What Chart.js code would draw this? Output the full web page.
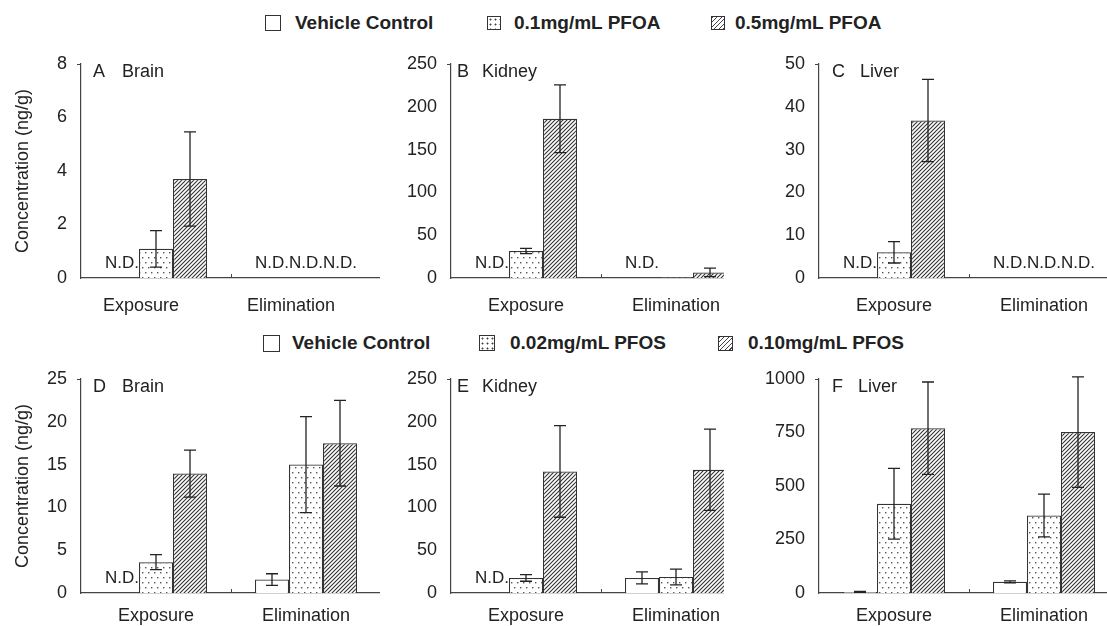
<!DOCTYPE html>
<html>
<head>
<meta charset="utf-8">
<script src="https://cdn.jsdelivr.net/npm/chart.js@4.4.1/dist/chart.umd.min.js"></script>
<style>
    html, body { margin: 0; padding: 0; background: #fff; }
    body { width: 1107px; height: 626px; position: relative; overflow: hidden; font-family: "Liberation Sans", Arial, sans-serif; color: #222; }
    .panel { position: absolute; overflow: hidden; }
    .legend-box { position: absolute; box-sizing: border-box; border: 1.3px solid #333; background-color: #fff; }
    .legend-text { position: absolute; font-weight: bold; font-size: 19px; line-height: 22px; white-space: nowrap; }
    .dots { background-image: radial-gradient(circle, #444 0.8px, transparent 1.2px); background-size: 5px 5px; }
    .hatch { background-image: repeating-linear-gradient(135deg, #444 0 1px, #fff 1px 3.2px); }
</style>
</head>
<body>
<script>
// categories / series
const categories = ['Exposure', 'Elimination'];
const pfoaSeries = ['Vehicle Control', '0.1mg/mL PFOA', '0.5mg/mL PFOA'];
const pfosSeries = ['Vehicle Control', '0.02mg/mL PFOS', '0.10mg/mL PFOS'];

// means per series [vehicle, low, high], each [Exposure, Elimination]; null = N.D.
const brainPfoaMean = [[null, null], [1.09, null], [3.70, null]];
const brainPfoaErr = [[0, 0], [0.68, 0], [1.76, 0]];
const kidneyPfoaMean = [[null, null], [31.5, 0.8], [186, 6.5]];
const kidneyPfoaErr = [[0, 0], [3, 0], [39.5, 5]];
const liverPfoaMean = [[null, null], [6.0, null], [36.8, null]];
const liverPfoaErr = [[0, 0], [2.5, 0], [9.6, 0]];

const brainPfosMean = [[null, 1.57], [3.6, 15.0], [13.95, 17.5]];
const brainPfosErr = [[0, 0.68], [0.88, 5.6], [2.75, 5.0]];
const kidneyPfosMean = [[null, 17.6], [17.6, 18.8], [142, 144]];
const kidneyPfosErr = [[0, 7], [3.9, 9.2], [53.5, 47.5]];
const liverPfosMean = [[5, 52], [417, 362], [770, 752]];
const liverPfosErr = [[2, 5], [165, 100], [216, 258]];

// y axis ticks per panel A..F
const yMax = [8, 250, 50, 25, 250, 1000];
const yStep = [2, 50, 10, 5, 50, 250];
const panelLetters = ['A', 'B', 'C', 'D', 'E', 'F'];
const panelTissues = ['Brain', 'Kidney', 'Liver', 'Brain', 'Kidney', 'Liver'];

const FONT = '"Liberation Sans", Arial, sans-serif';
Chart.defaults.font.family = FONT;
Chart.defaults.color = '#222';

function dotPattern() {
    const c = document.createElement('canvas');
    c.width = 6; c.height = 10;
    const g = c.getContext('2d');
    g.fillStyle = '#fff'; g.fillRect(0, 0, 6, 10);
    g.fillStyle = '#555';
    g.fillRect(1, 2, 1.4, 1.4);
    g.fillRect(4, 7, 1.4, 1.4);
    return g.createPattern(c, 'repeat');
}

function hatchPattern() {
    const c = document.createElement('canvas');
    c.width = 4; c.height = 4;
    const g = c.getContext('2d');
    g.fillStyle = '#fff'; g.fillRect(0, 0, 4, 4);
    g.strokeStyle = '#333'; g.lineWidth = 1.1;
    g.beginPath();
    g.moveTo(-1, 5); g.lineTo(5, -1);
    g.moveTo(-1, 1); g.lineTo(1, -1);
    g.moveTo(3, 5); g.lineTo(5, 3);
    g.stroke();
    return g.createPattern(c, 'repeat');
}

const fills = ['#ffffff', dotPattern(), hatchPattern()];

// error bars, N.D. labels, small axis ticks, panel letter
const panelExtras = {
    id: 'panelExtras',
    afterDatasetsDraw(chart, args, opts) {
        const { ctx, chartArea: a, scales: { x, y } } = chart;
        const zero = y.getPixelForValue(0);
        ctx.save();
        ctx.strokeStyle = '#222';
        ctx.lineWidth = 1.3;
        chart.data.datasets.forEach((ds, s) => {
            const meta = chart.getDatasetMeta(s);
            ds.data.forEach((v, i) => {
                const bar = meta.data[i];
                if (v === null) {
                    ctx.fillStyle = '#222';
                    ctx.font = '17px ' + FONT;
                    ctx.textAlign = 'center';
                    ctx.textBaseline = 'alphabetic';
                    ctx.fillText('N.D.', bar.x, zero - 10);
                    return;
                }
                const e = opts.err[s][i];
                if (!e) return;
                const top = y.getPixelForValue(v + e);
                const bot = y.getPixelForValue(Math.max(v - e, 0));
                ctx.beginPath();
                ctx.moveTo(bar.x, top); ctx.lineTo(bar.x, bot);
                ctx.moveTo(bar.x - 6, top); ctx.lineTo(bar.x + 6, top);
                ctx.moveTo(bar.x - 6, bot); ctx.lineTo(bar.x + 6, bot);
                ctx.stroke();
            });
        });

        ctx.strokeStyle = '#444';
        ctx.lineWidth = 1;
        ctx.beginPath();
        const mid = Math.round(x.getPixelForValue(0.5)) + 0.5;
        ctx.moveTo(mid, a.bottom); ctx.lineTo(mid, a.bottom - 4);
        ctx.moveTo(a.left - 4, a.top + 0.5); ctx.lineTo(a.left, a.top + 0.5);
        ctx.stroke();

        ctx.fillStyle = '#222';
        ctx.font = '18px ' + FONT;
        ctx.textAlign = 'left';
        ctx.textBaseline = 'middle';
        ctx.fillText(opts.letter, a.left + opts.lx, a.top + 8);
        ctx.fillText(opts.tissue, a.left + opts.tx, a.top + 8);
        ctx.restore();
    }
};

const panelMeans = [brainPfoaMean, kidneyPfoaMean, liverPfoaMean, brainPfosMean, kidneyPfosMean, liverPfosMean];
const panelErrs = [brainPfoaErr, kidneyPfoaErr, liverPfoaErr, brainPfosErr, kidneyPfosErr, liverPfosErr];

// layout
const axisLeft = [81, 451, 819];
const clipRight = [380, 724, 1107];
const plotTop = [64, 379];
const labelPad = [17, 12];
const xLabelShift = [-15, 0, 0, 0, 0, 0];
const letterX = [12, 6, 13, 12, 6, 13];
const tissueX = [41, 31, 41, 41, 31, 39];

function makeChart(idx) {
    const col = idx % 3, row = Math.floor(idx / 3);
    const yw = col === 0 ? 81 : 70;
    const padTop = 14, plotH = 214, xh = 40, plotW = 300;
    const left = axisLeft[col] - yw;
    const h = padTop + plotH + xh;

    const wrap = document.createElement('div');
    wrap.className = 'panel';
    wrap.style.left = left + 'px';
    wrap.style.top = (plotTop[row] - padTop) + 'px';
    wrap.style.width = (clipRight[col] - left) + 'px';
    wrap.style.height = h + 'px';
    const cv = document.createElement('canvas');
    cv.width = yw + plotW;
    cv.height = h;
    cv.style.width = cv.width + 'px';
    cv.style.height = h + 'px';
    wrap.appendChild(cv);
    document.body.appendChild(wrap);

    const series = row === 0 ? pfoaSeries : pfosSeries;

    new Chart(cv, {
        type: 'bar',
        data: {
            labels: categories,
            datasets: series.map((name, s) => ({
                label: name,
                data: panelMeans[idx][s],
                backgroundColor: fills[s],
                borderColor: '#333',
                borderWidth: 1.2,
                barPercentage: 1,
                categoryPercentage: 0.68
            }))
        },
        options: {
            responsive: false, animation: false,
            layout: { padding: { top: padTop, left: 0, right: 0, bottom: 0 } },
            plugins: {
                legend: { display: false },
                tooltip: { enabled: false },
                panelExtras: { err: panelErrs[idx], letter: panelLetters[idx], tissue: panelTissues[idx], lx: letterX[idx], tx: tissueX[idx] }
            },
            scales: {
                x: {
                    grid: { display: false, drawTicks: false },
                    border: { color: '#444', width: 1.2 },
                    ticks: { font: { size: 18 }, color: '#222', padding: labelPad[row], labelOffset: xLabelShift[idx] },
                    afterFit: s => { s.height = xh; }
                },
                y: {
                    min: 0, max: yMax[idx],
                    grid: { display: false, drawTicks: false },
                    border: { color: '#444', width: 1.2 },
                    ticks: { stepSize: yStep[idx], padding: 14, font: { size: 18 }, color: '#222', callback: v => String(v) },
                    title: { display: col === 0, text: 'Concentration (ng/g)', font: { size: 18 }, color: '#222', padding: { top: 12, bottom: 0 } },
                    // fixed width, and no extra top/bottom padding from the tick labels
                    afterFit: s => { s.width = yw; s.paddingTop = 0; s.paddingBottom = 0; }
                }
            }
        },
        plugins: [panelExtras]
    });
}

for (let i = 0; i < 6; i++) makeChart(i);

// legends
const legendRows = [
    { series: pfoaSeries, y: 23, box: [265, 487, 711], size: [16, 14, 14], text: [295, 514, 735] },
    { series: pfosSeries, y: 343, box: [263, 479, 718], size: [17, 16, 15], text: [292, 510, 748] }
];
const swatchClass = ['', 'dots', 'hatch'];

legendRows.forEach(r => {
    r.series.forEach((name, s) => {
        const b = document.createElement('div');
        b.className = 'legend-box ' + swatchClass[s];
        b.style.left = r.box[s] + 'px';
        b.style.top = (r.y - r.size[s] / 2) + 'px';
        b.style.width = r.size[s] + 'px';
        b.style.height = r.size[s] + 'px';
        document.body.appendChild(b);
        const t = document.createElement('div');
        t.className = 'legend-text';
        t.style.left = r.text[s] + 'px';
        t.style.top = (r.y - 11) + 'px';
        t.textContent = name;
        document.body.appendChild(t);
    });
});
</script>
</body>
</html>
